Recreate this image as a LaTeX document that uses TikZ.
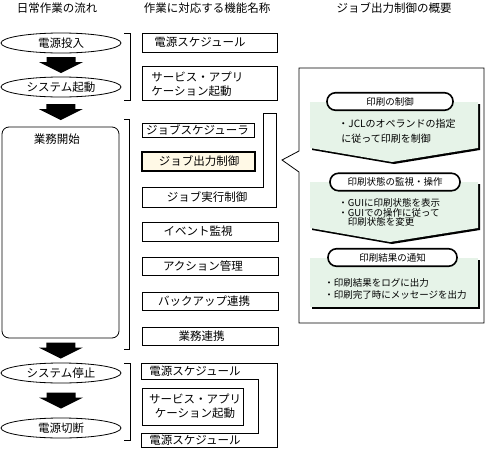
\documentclass[tikz,border=0pt]{standalone}
\usepackage{fontspec}
\setmainfont{Noto Sans CJK JP}
\usetikzlibrary{shapes.geometric,calc}

\definecolor{notegreen}{RGB}{230,243,232}
\definecolor{outcream}{RGB}{255,249,230}

% block arrow centred between two flow nodes
\newcommand{\flowarrow}[2]{%
	\coordinate (m) at ($(#1.south)!0.5!(#2.north)$) ;
	\fill[shift={(m)}] (-14.5,-8) -- (14.5,-8) -- (14.5,-3) -- (22,-3) -- (0,8) -- (-22,-3) -- (-14.5,-3) -- cycle ;
}

\begin{document}
\begin{tikzpicture}[x=1pt,y=-1pt,line width=0.8pt,
	every node/.style={font=\fontsize{11.5}{14}\selectfont, inner sep=0pt},
	flow/.style={ellipse, draw, minimum width=120pt, minimum height=20pt},
	small/.style={font=\fontsize{9.5}{11}\selectfont, align=left, anchor=west},
	pill/.style={draw, line width=1.6pt, rounded corners=8.5pt, fill=white, minimum height=17.5pt, font=\fontsize{9.5}{11}\selectfont}]
	\useasboundingbox (0,0) rectangle (485,453) ;

	\draw (57,8) node (titleflow) {日常作業の流れ} ;
	\draw (207,8) node (titlefunc) {作業に対応する機能名称} ;
	\draw (394,8) node (titleout) {ジョブ出力制御の概要} ;

	% daily flow
	\draw (61,43) node[flow] (poweron) {電源投入} ;
	\draw (61,87) node[flow] (sysstart) {システム起動} ;
	\draw (60.5,232.5) node[draw, rounded corners=7pt, minimum width=117pt, minimum height=211pt] (business) {} ;
	\draw (57,139) node (bizstart) {業務開始} ;
	\draw (61,373) node[flow] (sysstop) {システム停止} ;
	\draw (61,428) node[flow] (poweroff) {電源切断} ;

	\flowarrow{poweron}{sysstart}
	\flowarrow{sysstart}{business}
	\flowarrow{business}{sysstop}
	\flowarrow{sysstop}{poweroff}

	\draw (124,33) -- (130,33) -- (130,100) -- (124,100) ;
	\draw (124,119) -- (129,119) -- (129,349) -- (124,349) ;
	\draw (124,363) -- (130,363) -- (130,440) -- (124,440) ;

	% functions
	\draw (142,33) rectangle (277,52) ;
	\draw (200,42.5) node (sched) {電源スケジュール} ;
	\draw (142,66) rectangle (277,100) ;
	\draw (151,84) node[anchor=west, align=left] (svcstart) {サービス・アプリ\\ ケーション起動} ;

	\draw (142,187) -- (263,187) -- (263,113) -- (276,113) -- (276,207) -- (142,207) -- cycle ;
	\draw (207,197.5) node (jobexec) {ジョブ実行制御} ;
	\draw (142,123) rectangle (254,137) ;
	\draw (197.5,130) node (jobsched) {ジョブスケジューラ} ;
	\draw[line width=2pt, fill=outcream] (142,152) rectangle (255,171) ;
	\draw (199,161.5) node (jobout) {ジョブ出力制御} ;

	\draw (142,222) rectangle (278,241) ;
	\draw (198,231.5) node (event) {イベント監視} ;
	\draw (142,257) rectangle (278,275) ;
	\draw (203,266) node (action) {アクション管理} ;
	\draw (142,292) rectangle (278,310) ;
	\draw (204,301) node (backup) {バックアップ連携} ;
	\draw (142,327) rectangle (278,345) ;
	\draw (201.5,336) node (bizlink) {業務連携} ;

	\draw (141,363) -- (277,363) -- (277,447) -- (141,447) -- (141,433) -- (258,433) -- (258,379) -- (141,379) -- cycle ;
	\draw (195,371) node (schedstop) {電源スケジュール} ;
	\draw (195,440) node (schedoff) {電源スケジュール} ;
	\draw (142,388) rectangle (243,425) ;
	\draw (195,406) node[align=center] (svcstop) {サービス・アプリ\\ケーション起動} ;

	% job output control outline
	\draw (299,68) -- (484,68) -- (484,323) -- (299,323) -- (299,172) -- (282,160) -- (299,151) -- cycle ;

	\fill[shift={(2,2)}] (310,102) -- (478,102) -- (478,148) -- (392,162) -- (310,148) -- cycle ;
	\fill[notegreen] (310,102) -- (478,102) -- (478,148) -- (392,162) -- (310,148) -- cycle ;
	\fill[shift={(2,2)}] (310,182) -- (478,182) -- (478,228) -- (390,242) -- (310,228) -- cycle ;
	\fill[notegreen] (310,182) -- (478,182) -- (478,228) -- (390,242) -- (310,228) -- cycle ;
	\fill[shift={(2,2)}] (310,258) rectangle (478,307) ;
	\fill[notegreen] (310,258) rectangle (478,307) ;

	\draw (390,101.5) node[pill, minimum width=126pt] (printctl) {印刷の制御} ;
	\draw (395,182) node[pill, minimum width=130pt] (printmon) {印刷状態の監視・操作} ;
	\draw (392.5,257.5) node[pill, minimum width=129pt] (printnote) {印刷結果の通知} ;

	\draw (338,131) node[small, font=\fontsize{10}{15.5}\selectfont] (ctltext) {・JCLのオペランドの指定\\\hspace*{3pt}に従って印刷を制御} ;
	\draw (338,212.5) node[small, font=\fontsize{9.5}{9.8}\selectfont] (montext) {・GUIに印刷状態を表示\\・GUIでの操作に従って\\\phantom{・}印刷状態を変更} ;
	\draw (324,289) node[small, font=\fontsize{9.5}{12}\selectfont] (notetext) {・印刷結果をログに出力\\・印刷完了時にメッセージを出力} ;
\end{tikzpicture}
\end{document}
